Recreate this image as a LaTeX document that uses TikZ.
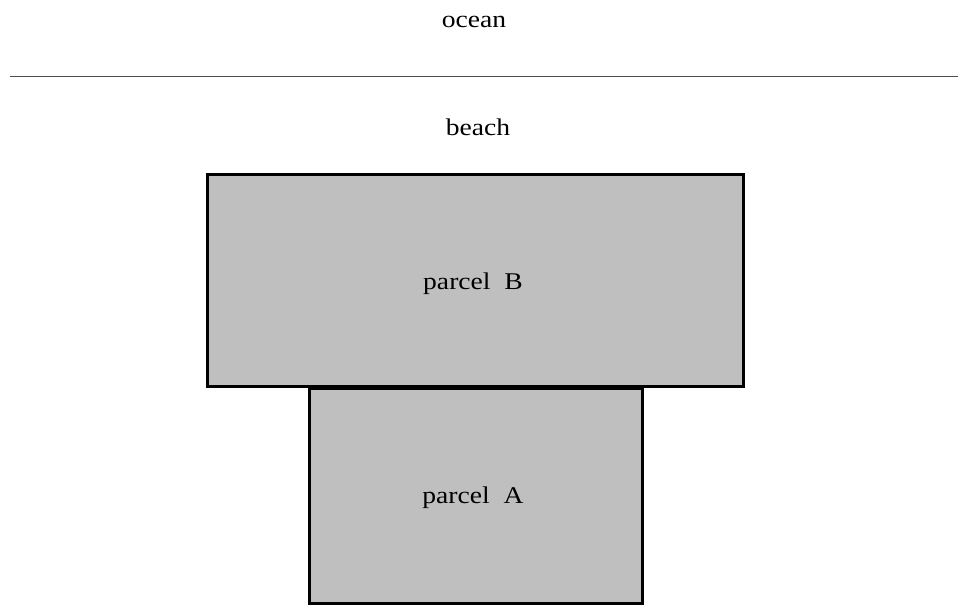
\documentclass[tikz,border=0pt]{standalone}
\usepackage{fontspec}
\setmainfont{Liberation Serif}
\begin{document}
\begin{tikzpicture}[x=1pt,y=-1pt,
  lbl/.style={font=\fontsize{24}{28}\selectfont, xscale=1.15, inner sep=0pt},
  parcel/.style={draw=black, fill=black!25, line width=3pt}]
\useasboundingbox (0,0) rectangle (958,605);
\node[lbl] (ocean) at (474,22) {ocean};
\coordinate (l1) at (10,76.5);
\coordinate (l2) at (958,76.5);
\draw[line width=1.6pt, draw=black!70] (l1) -- (l2);
\node[lbl] (beach) at (478,127) {beach};
\draw[parcel] (207,174) rectangle (743,386);
\draw[parcel] (309.5,388.5) rectangle (642,603);
\node[lbl] (pB) at (473,284) {parcel\ \ B};
\node[lbl] (pA) at (473,498) {parcel\ \ A};
\end{tikzpicture}
\end{document}
